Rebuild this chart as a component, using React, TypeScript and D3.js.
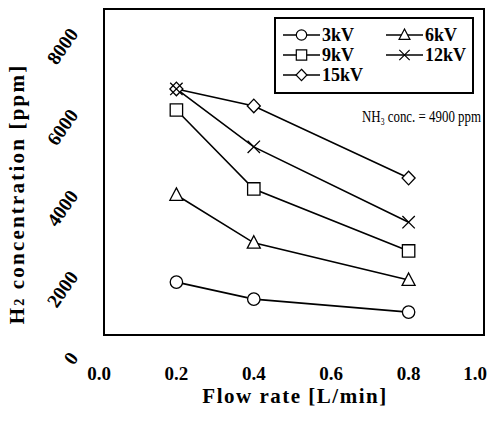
import React, { Component } from 'react';
import * as d3 from 'd3';

// values (H2 ppm at each flow rate)
const flowRates = [0.2, 0.4, 0.8];
const h2At3kV = [2170, 1750, 1430];
const h2At6kV = [4320, 3140, 2220];
const h2At9kV = [6420, 4470, 2940];
const h2At12kV = [6940, 5510, 3650];
const h2At15kV = [6940, 6520, 4740];
const seriesNames = ['3kV', '6kV', '9kV', '12kV', '15kV'];
const xTicks = [0, 0.2, 0.4, 0.6, 0.8, 1.0];
const yTicks = [0, 2000, 4000, 6000, 8000];

const markerKinds = ['circle', 'triangle', 'square', 'times', 'diamond'];
const serif = '"Liberation Serif", "Times New Roman", serif';

function markerPath(kind: string, s: number) {
    switch (kind) {
        case 'circle': {
            const p = d3.path();
            p.arc(0, 0, s, 0, Math.PI * 2);
            p.closePath();
            return p.toString();
        }
        case 'triangle':
            return `M0,${-s * 1.15}L${s * 1.05},${s * 0.85}L${-s * 1.05},${s * 0.85}Z`;
        case 'square':
            return `M${-s},${-s}H${s}V${s}H${-s}Z`;
        case 'times':
            return `M${-s},${-s}L${s},${s}M${s},${-s}L${-s},${s}`;
        default:
            return `M0,${-s * 1.1}L${s * 1.05},0L0,${s * 1.1}L${-s * 1.05},0Z`;
    }
}

class H2Chart extends Component<any> {
    node: SVGSVGElement | null = null;

    componentDidMount() {
        this.createchart();
    }

    componentDidUpdate() {
        this.createchart();
    }

    createchart() {
        const node = this.node;
        const width = 496, height = 421;
        const frame = { left: 104, right: 484, top: 9, bottom: 335 };

        const series = [h2At3kV, h2At6kV, h2At9kV, h2At12kV, h2At15kV].map((vals, i) => ({
            name: seriesNames[i],
            kind: markerKinds[i],
            points: flowRates.map((f, j) => ({ flow: f, h2: vals[j] }))
        }));

        const xScale = d3.scaleLinear().domain([0, 1]).range([99, 486]);
        const yScale = d3.scaleLinear().domain([0, 8000]).range([370, 46]);

        const svg = d3.select(node)
            .attr('width', width)
            .attr('height', height);
        svg.selectAll('*').remove();

        svg.append('rect')
            .attr('width', width).attr('height', height)
            .attr('fill', '#fff');

        // plot frame
        svg.append('rect')
            .attr('x', frame.left).attr('y', frame.top)
            .attr('width', frame.right - frame.left)
            .attr('height', frame.bottom - frame.top)
            .attr('fill', 'none')
            .attr('stroke', '#000')
            .attr('stroke-width', 2);

        const valueline = d3.line<any>()
            .x(d => xScale(d.flow))
            .y(d => yScale(d.h2));

        svg.append('g').selectAll('path')
            .data(series)
            .enter().append('path')
            .attr('d', d => valueline(d.points))
            .attr('fill', 'none')
            .attr('stroke', '#000')
            .attr('stroke-width', 1.6);

        // markers, the crosses last so they show through the diamond
        const order = [0, 1, 2, 4, 3];
        order.forEach(i => {
            const s = series[i];
            svg.append('g').selectAll('path')
                .data(s.points)
                .enter().append('path')
                .attr('transform', d => `translate(${xScale(d.flow)},${yScale(d.h2)})`)
                .attr('d', markerPath(s.kind, 6.2))
                .attr('fill', s.kind === 'times' ? 'none' : '#fff')
                .attr('stroke', '#000')
                .attr('stroke-width', 1.3);
        });

        // x tick labels (last one pulled in, as in the figure)
        svg.append('g').selectAll('text')
            .data(xTicks)
            .enter().append('text')
            .attr('x', d => Math.min(xScale(d), 475))
            .attr('y', 380)
            .attr('text-anchor', 'middle')
            .attr('font-family', serif)
            .attr('font-weight', 'bold')
            .attr('font-size', 19)
            .text(d => d.toFixed(1));

        // y tick labels, slanted
        svg.append('g').selectAll('text')
            .data(yTicks)
            .enter().append('text')
            .attr('transform', d => `translate(79,${yScale(d) - 12}) rotate(-55)`)
            .attr('text-anchor', 'end')
            .attr('font-family', serif)
            .attr('font-weight', 'bold')
            .attr('font-size', 19.5)
            .text(d => String(d));

        // axis titles
        svg.append('text')
            .attr('x', 295).attr('y', 403)
            .attr('text-anchor', 'middle')
            .attr('font-family', serif)
            .attr('font-weight', 'bold')
            .attr('font-size', 21)
            .attr('letter-spacing', 1.5)
            .text('Flow rate [L/min]');

        const yTitle = svg.append('text')
            .attr('transform', 'translate(24,194) rotate(-90)')
            .attr('text-anchor', 'middle')
            .attr('font-family', serif)
            .attr('font-weight', 'bold')
            .attr('font-size', 21)
            .attr('letter-spacing', 2.2);
        yTitle.append('tspan').text('H');
        yTitle.append('tspan').attr('font-size', 14).text('2');
        yTitle.append('tspan').text(' concentration [ppm]');

        // legend
        const legend = svg.append('g');
        legend.append('rect')
            .attr('x', 275).attr('y', 18)
            .attr('width', 198).attr('height', 75)
            .attr('fill', '#fff')
            .attr('stroke', '#000')
            .attr('stroke-width', 2);
        const cols = [283, 386];
        const rows = [35, 55, 75];
        series.forEach((s, i) => {
            const x0 = cols[i % 2];
            const y0 = rows[Math.floor(i / 2)];
            const item = legend.append('g');
            item.append('line')
                .attr('x1', x0).attr('x2', x0 + 37)
                .attr('y1', y0).attr('y2', y0)
                .attr('stroke', '#000').attr('stroke-width', 1.3);
            item.append('path')
                .attr('transform', `translate(${x0 + 18.5},${y0})`)
                .attr('d', markerPath(s.kind, 5.2))
                .attr('fill', s.kind === 'times' ? 'none' : '#fff')
                .attr('stroke', '#000')
                .attr('stroke-width', 1.2);
            item.append('text')
                .attr('x', x0 + 39).attr('y', y0 + 6)
                .attr('font-family', serif)
                .attr('font-weight', 'bold')
                .attr('font-size', 18)
                .text(s.name);
        });

        // condition note
        const note = svg.append('text')
            .attr('transform', 'translate(481,122) scale(0.76,1)')
            .attr('text-anchor', 'end')
            .attr('font-family', serif)
            .attr('font-size', 17);
        note.append('tspan').text('NH');
        note.append('tspan').attr('font-size', 10).attr('dy', 3).text('3');
        note.append('tspan').attr('dy', -3).text(' conc. = 4900 ppm');
    }

    render() {
        return (<svg ref={node => { this.node = node; }} style={{ position: 'absolute', left: 0, top: 0 }} />);
    }
}

export default function App() {
    return <H2Chart />;
}
